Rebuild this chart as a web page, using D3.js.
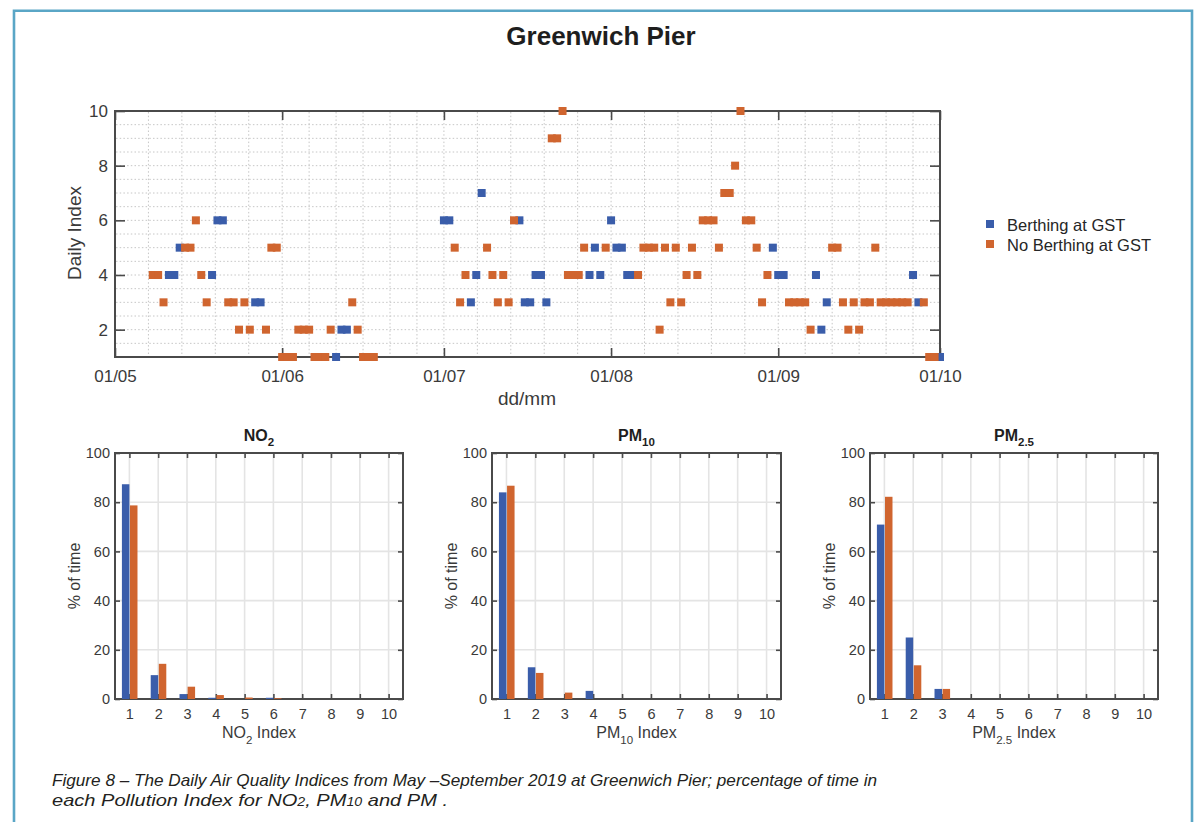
<!DOCTYPE html>
<html>
<head>
<meta charset="utf-8">
<script src="https://cdn.jsdelivr.net/npm/d3@7"></script>
<style>
body { margin: 0; background: #fff; }
svg { display: block; font-family: "Liberation Sans", Arial, Helvetica, sans-serif; }
</style>
</head>
<body>
<svg id="chart" width="1195" height="822"></svg>
<script>
// daily index on days with a ship berthing at GST
const berthDates = [
  "2019-05-11", "2019-05-12", "2019-05-13", "2019-05-19", "2019-05-20", "2019-05-21", "2019-05-27", "2019-05-28",
  "2019-06-11", "2019-06-12", "2019-06-13",
  "2019-07-01", "2019-07-02", "2019-07-06", "2019-07-07", "2019-07-08", "2019-07-15", "2019-07-16", "2019-07-17",
  "2019-07-18", "2019-07-19", "2019-07-20", "2019-07-28", "2019-07-29", "2019-07-30",
  "2019-08-01", "2019-08-02", "2019-08-03", "2019-08-04", "2019-08-05", "2019-08-31",
  "2019-09-01", "2019-09-02", "2019-09-08", "2019-09-09", "2019-09-10", "2019-09-26", "2019-09-27", "2019-10-01"
];
const berthIndex = [
  4, 4, 5, 4, 6, 6, 3, 3,
  1, 2, 2,
  6, 6, 3, 4, 7, 6, 3, 3,
  4, 4, 3, 4, 5, 4,
  6, 5, 5, 4, 4, 5,
  4, 4, 4, 2, 3, 4, 3, 1
];

// daily index on days without berthing
const noBerthDates = [
  "2019-05-08", "2019-05-09", "2019-05-10", "2019-05-14", "2019-05-15", "2019-05-16", "2019-05-17", "2019-05-18",
  "2019-05-22", "2019-05-23", "2019-05-24", "2019-05-25", "2019-05-26", "2019-05-29", "2019-05-30", "2019-05-31",
  "2019-06-01", "2019-06-02", "2019-06-03", "2019-06-04", "2019-06-05", "2019-06-06", "2019-06-07", "2019-06-08",
  "2019-06-09", "2019-06-10", "2019-06-14", "2019-06-15", "2019-06-16", "2019-06-17", "2019-06-18",
  "2019-07-03", "2019-07-04", "2019-07-05", "2019-07-09", "2019-07-10", "2019-07-11", "2019-07-12", "2019-07-13",
  "2019-07-14", "2019-07-21", "2019-07-22", "2019-07-23", "2019-07-24", "2019-07-25", "2019-07-26", "2019-07-27",
  "2019-07-31", "2019-08-06", "2019-08-07", "2019-08-08", "2019-08-09", "2019-08-10", "2019-08-11", "2019-08-12",
  "2019-08-13", "2019-08-14", "2019-08-15", "2019-08-16", "2019-08-17", "2019-08-18", "2019-08-19", "2019-08-20",
  "2019-08-21", "2019-08-22", "2019-08-23", "2019-08-24", "2019-08-25", "2019-08-26", "2019-08-27", "2019-08-28",
  "2019-08-29", "2019-08-30", "2019-09-03", "2019-09-04", "2019-09-05", "2019-09-06", "2019-09-07", "2019-09-11",
  "2019-09-12", "2019-09-13", "2019-09-14", "2019-09-15", "2019-09-16", "2019-09-17", "2019-09-18", "2019-09-19",
  "2019-09-20", "2019-09-21", "2019-09-22", "2019-09-23", "2019-09-24", "2019-09-25", "2019-09-28", "2019-09-29",
  "2019-09-30"
];
const noBerthIndex = [
  4, 4, 3, 5, 5, 6, 4, 3,
  3, 3, 2, 3, 2, 2, 5, 5,
  1, 1, 1, 2, 2, 2, 1, 1,
  1, 2, 3, 2, 1, 1, 1,
  5, 3, 4, 5, 4, 3, 4, 3,
  6, 9, 9, 10, 4, 4, 4, 5,
  5, 4, 5, 5, 5, 2, 5, 3,
  5, 3, 4, 5, 4, 6, 6, 6,
  5, 7, 7, 8, 10, 6, 6, 5,
  3, 4, 3, 3, 3, 3, 2, 5,
  5, 3, 2, 3, 2, 3, 3, 5,
  3, 3, 3, 3, 3, 3, 3, 1,
  1
];

// % of time in each pollution index
const indexCats = [1, 2, 3, 4, 5, 6, 7, 8, 9, 10];
const no2Berth = [87.3, 9.7, 2.0, 0.5, 0, 0.5, 0, 0, 0, 0];
const no2NoBerth = [78.7, 14.3, 5.0, 1.6, 0.6, 0.3, 0, 0, 0, 0];
const pm10Berth = [84.0, 12.9, 0, 3.3, 0, 0, 0, 0, 0, 0];
const pm10NoBerth = [86.7, 10.6, 2.6, 0, 0, 0, 0, 0, 0, 0];
const pm25Berth = [70.9, 25.0, 4.1, 0, 0, 0, 0, 0, 0, 0];
const pm25NoBerth = [82.2, 13.7, 4.1, 0, 0, 0, 0, 0, 0, 0];

const seriesNames = ["Berthing at GST", "No Berthing at GST"];
const blue = "#3a5daa", orange = "#d0652f";
const axisCol = "#4a4a4a", textCol = "#3a3a3a";

const parse = d3.timeParse("%Y-%m-%d");
const svg = d3.select("#chart");

// page frame
svg.append("path")
  .attr("d", "M14,830 V10.7 H1192 V830")
  .attr("fill", "none").attr("stroke", "#5aa6c6").attr("stroke-width", 2.6);

// tidy up a d3 axis group
function styleAxis(g, size) {
  g.select(".domain").remove();
  g.selectAll(".tick line").attr("stroke", axisCol).attr("stroke-width", 1.6);
  g.selectAll(".tick text").attr("fill", textCol).attr("font-size", size)
    .attr("font-family", "Liberation Sans, Arial, sans-serif");
  g.attr("font-family", null).attr("font-size", null);
}

// ---- top: daily index scatter ----
const x = d3.scaleTime().domain([parse("2019-05-01"), parse("2019-10-01")]).range([115, 940]);
const y = d3.scaleLinear().domain([1, 10]).range([357, 111]);
const main = svg.append("g");

main.append("text").attr("x", 601).attr("y", 45).attr("text-anchor", "middle")
  .attr("font-size", 26).attr("font-weight", "bold").attr("fill", "#1e1e1e").text("Greenwich Pier");

// dotted grid, every half index and every fraction of a month
main.selectAll(".hgrid").data(d3.range(1.5, 10, 0.5)).join("line")
  .attr("x1", 116).attr("x2", 939).attr("y1", d => y(d)).attr("y2", d => y(d))
  .attr("stroke", "#c6c6c6").attr("stroke-dasharray", "1.5,2.2");

const months = d3.timeMonth.range(x.domain()[0], x.domain()[1]);
const vGrid = [];
months.forEach((m, i) => {
  const next = d3.timeMonth.offset(m, 1);
  const parts = d3.timeDay.count(m, next) === 31 ? 5 : 6;
  for (let k = i === 0 ? 1 : 0; k < parts; k++) vGrid.push(new Date(+m + k * (next - m) / parts));
});
main.selectAll(".vgrid").data(vGrid).join("line")
  .attr("x1", d => x(d)).attr("x2", d => x(d)).attr("y1", 112).attr("y2", 356)
  .attr("stroke", "#c6c6c6").attr("stroke-dasharray", "1.5,2.2");

main.append("rect").attr("x", 115).attr("y", 111).attr("width", 825).attr("height", 246)
  .attr("fill", "none").attr("stroke", axisCol).attr("stroke-width", 2);

const monthTicks = d3.timeMonth.range(x.domain()[0], d3.timeDay.offset(x.domain()[1], 1));
main.append("g").attr("transform", "translate(0,357)")
  .call(d3.axisBottom(x).tickValues(monthTicks).tickFormat(d3.timeFormat("%d/%m"))
    .tickSizeInner(-9).tickSizeOuter(0).tickPadding(13))
  .call(g => styleAxis(g, 17));
main.append("g").attr("transform", "translate(0,111)")
  .call(d3.axisTop(x).tickValues(monthTicks).tickFormat("").tickSizeInner(-9).tickSizeOuter(0))
  .call(g => styleAxis(g, 17));
main.append("g").attr("transform", "translate(115,0)")
  .call(d3.axisLeft(y).tickValues([2, 4, 6, 8, 10]).tickSizeInner(-10).tickSizeOuter(0).tickPadding(7))
  .call(g => styleAxis(g, 17));
main.append("g").attr("transform", "translate(940,0)")
  .call(d3.axisRight(y).tickValues([2, 4, 6, 8, 10]).tickFormat("").tickSizeInner(-10).tickSizeOuter(0))
  .call(g => styleAxis(g, 17));

main.append("text").attr("transform", "translate(81,233) rotate(-90)").attr("text-anchor", "middle")
  .attr("font-size", 19).attr("fill", textCol).text("Daily Index");
main.append("text").attr("x", 527).attr("y", 405).attr("text-anchor", "middle")
  .attr("font-size", 19).attr("fill", textCol).text("dd/mm");

const msz = 8;
main.selectAll(".berth").data(d3.zip(berthDates, berthIndex)).join("rect")
  .attr("x", d => x(parse(d[0])) - msz / 2).attr("y", d => y(d[1]) - msz / 2)
  .attr("width", msz).attr("height", msz).attr("fill", blue);
main.selectAll(".noberth").data(d3.zip(noBerthDates, noBerthIndex)).join("rect")
  .attr("x", d => x(parse(d[0])) - msz / 2).attr("y", d => y(d[1]) - msz / 2)
  .attr("width", msz).attr("height", msz).attr("fill", orange);

// legend
const leg = main.selectAll(".leg").data(seriesNames).join("g")
  .attr("transform", (d, i) => `translate(986,${220 + i * 20})`);
leg.append("rect").attr("width", 8).attr("height", 8).attr("fill", (d, i) => i ? orange : blue);
leg.append("text").attr("x", 21).attr("y", 10.5).attr("font-size", 16.5).attr("fill", "#262626").text(d => d);

// ---- bottom: % of time per index ----
function label(sel, name, sub, size, subDy, tail) {
  sel.append("tspan").text(name);
  sel.append("tspan").attr("font-size", size * 0.72).attr("dy", subDy).text(sub);
  if (tail) sel.append("tspan").attr("dy", -subDy).text(tail);
}

function drawBars(left, right, name, sub, berth, noBerth) {
  const bx = d3.scaleLinear().domain([0.5, 10.5]).range([left, right]);
  const by = d3.scaleLinear().domain([0, 100]).range([699, 453]);
  const g = svg.append("g");
  const bw = (bx(1) - bx(0)) * 0.26;

  g.selectAll(".gx").data(indexCats).join("line")
    .attr("x1", d => bx(d)).attr("x2", d => bx(d)).attr("y1", 453).attr("y2", 699)
    .attr("stroke", "#e4e4e4").attr("stroke-width", 1.6);
  g.selectAll(".gy").data([20, 40, 60, 80]).join("line")
    .attr("x1", left).attr("x2", right).attr("y1", d => by(d)).attr("y2", d => by(d))
    .attr("stroke", "#e4e4e4").attr("stroke-width", 1.6);

  g.append("rect").attr("x", left).attr("y", 453).attr("width", right - left).attr("height", 246)
    .attr("fill", "none").attr("stroke", axisCol).attr("stroke-width", 2);

  g.append("g").attr("transform", "translate(0,699)")
    .call(d3.axisBottom(bx).tickValues(indexCats).tickSizeInner(-5).tickSizeOuter(0).tickPadding(9.5))
    .call(a => styleAxis(a, 14.5));
  g.append("g").attr("transform", "translate(0,453)")
    .call(d3.axisTop(bx).tickValues(indexCats).tickFormat("").tickSizeInner(-5).tickSizeOuter(0))
    .call(a => styleAxis(a, 14.5));
  g.append("g").attr("transform", `translate(${left},0)`)
    .call(d3.axisLeft(by).tickValues([0, 20, 40, 60, 80, 100]).tickSizeInner(-5).tickSizeOuter(0).tickPadding(5))
    .call(a => styleAxis(a, 14.5));
  g.append("g").attr("transform", `translate(${right},0)`)
    .call(d3.axisRight(by).tickValues([0, 20, 40, 60, 80, 100]).tickFormat("").tickSizeInner(-5).tickSizeOuter(0))
    .call(a => styleAxis(a, 14.5));

  // bars over the tick marks
  g.selectAll(".b1").data(d3.zip(indexCats, berth)).join("rect")
    .attr("x", d => bx(d[0]) - bw).attr("width", bw)
    .attr("y", d => by(d[1])).attr("height", d => by(0) - by(d[1])).attr("fill", blue);
  g.selectAll(".b2").data(d3.zip(indexCats, noBerth)).join("rect")
    .attr("x", d => bx(d[0]) + 0.6).attr("width", bw)
    .attr("y", d => by(d[1])).attr("height", d => by(0) - by(d[1])).attr("fill", orange);

  const mid = (left + right) / 2;
  g.append("text").attr("x", mid).attr("y", 440.5).attr("text-anchor", "middle")
    .attr("font-size", 16).attr("font-weight", "bold").attr("fill", "#1e1e1e")
    .call(t => label(t, name, sub, 16, 5));
  g.append("text").attr("x", mid).attr("y", 738).attr("text-anchor", "middle")
    .attr("font-size", 16).attr("fill", textCol)
    .call(t => label(t, name, sub, 16, 6, " Index"));
  g.append("text").attr("transform", `translate(${left - 35},576) rotate(-90)`).attr("text-anchor", "middle")
    .attr("font-size", 16).attr("fill", textCol).text("% of time");
}

drawBars(115, 403, "NO", "2", no2Berth, no2NoBerth);
drawBars(492, 781, "PM", "10", pm10Berth, pm10NoBerth);
drawBars(870, 1158, "PM", "2.5", pm25Berth, pm25NoBerth);

// ---- caption ----
const cap = svg.append("g").attr("font-family", "Liberation Sans, Arial, sans-serif")
  .attr("font-style", "italic").attr("font-size", 17).attr("fill", "#231f20");
cap.append("text").attr("x", 52).attr("y", 786).attr("textLength", 825).attr("lengthAdjust", "spacingAndGlyphs")
  .text("Figure 8 \u2013 The Daily Air Quality Indices from May \u2013September 2019 at Greenwich Pier; percentage of time in");
// second line is set wider in the original
const l2 = cap.append("text").attr("x", 52).attr("y", 806).attr("textLength", 396).attr("lengthAdjust", "spacingAndGlyphs");
l2.append("tspan").text("each Pollution Index for NO");
l2.append("tspan").attr("font-size", 12).text("2");
l2.append("tspan").text(",  PM");
l2.append("tspan").attr("font-size", 12).text("10");
l2.append("tspan").text(" and PM .");
</script>
</body>
</html>
